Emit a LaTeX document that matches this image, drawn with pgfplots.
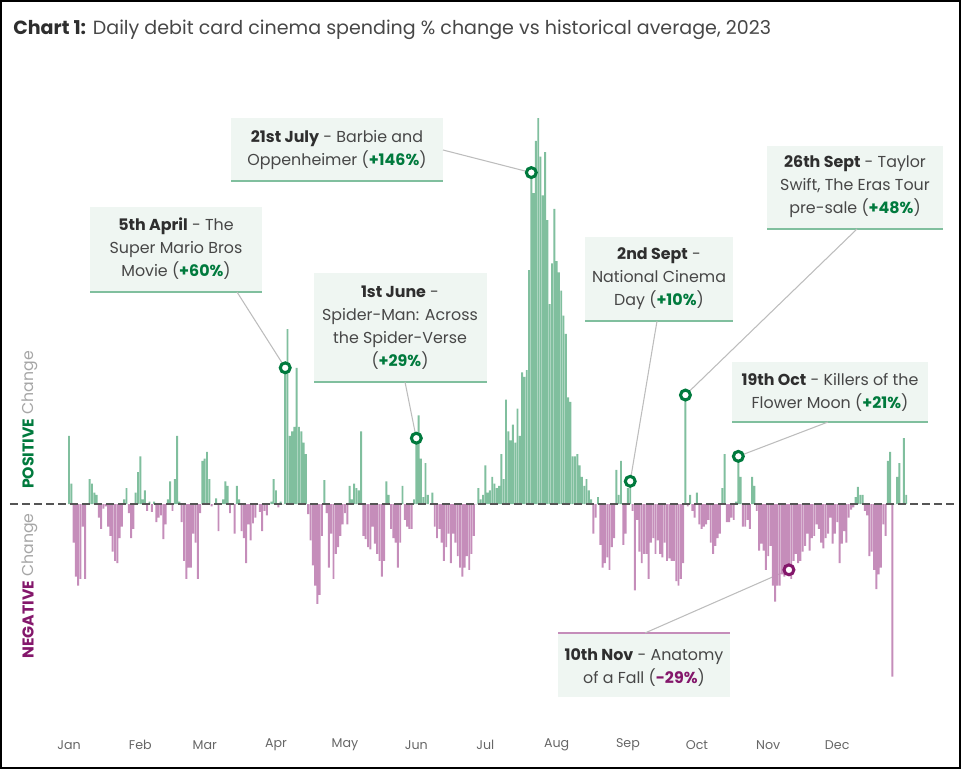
\documentclass[border=0pt]{standalone}
\usepackage{fontspec}
\setmainfont{Poppins}
\usepackage{pgfplots}
\pgfplotsset{compat=1.18}
\usepackage{pgfplotstable}
\definecolor{posbar}{HTML}{80BF9E}
\definecolor{negbar}{HTML}{C58DBA}
\definecolor{posdark}{HTML}{007A3D}
\definecolor{negdark}{HTML}{84176B}
\definecolor{boxfill}{HTML}{EFF6F2}
\definecolor{txtdark}{HTML}{2E2E2E}
\definecolor{txtreg}{HTML}{474747}
\definecolor{conn}{HTML}{BDBDBD}
\definecolor{zeroline}{HTML}{555555}
\definecolor{ylabgray}{HTML}{A6A6A6}
\definecolor{monthgray}{HTML}{666666}

\pgfplotstableread[row sep=\\]{
d v\\
0 30\\ 1 9\\ 2 -17\\ 3 -32\\ 4 -36\\ 5 -33\\ 6 -10\\ 7 -33\\ 8 0\\ 9 11\\
10 9\\ 11 5\\ 12 4\\ 13 -6\\ 14 -11\\ 15 -2\\ 16 -1\\ 17 -10\\ 18 -14\\ 19 -21\\
20 -25\\ 21 -26\\ 22 -15\\ 23 -10\\ 24 2\\ 25 7\\ 26 -4\\ 27 -15\\ 28 -11\\ 29 5\\
30 14\\ 31 21\\ 32 2\\ 33 6\\ 34 -3\\ 35 1\\ 36 -3.5\\ 37 1\\ 38 -8\\ 39 -6\\
40 -5\\ 41 -15.5\\ 42 -9\\ 43 2\\ 44 10\\ 45 -3\\ 46 11\\ 47 30\\ 48 1\\ 49 -8\\
50 -25\\ 51 -33\\ 52 -28\\ 53 -28\\ 54 -13\\ 55 -17\\ 56 -33\\ 57 -4\\ 58 19\\ 59 20\\
60 23\\ 61 11\\ 62 -1\\ 63 0\\ 64 2.5\\ 65 -12\\ 66 0\\ 67 2\\ 68 10\\ 69 8\\
70 -4\\ 71 0\\ 72 -13\\ 73 8\\ 74 2\\ 75 -12\\ 76 -15\\ 77 -26\\ 78 -9\\ 79 -16\\
80 -8.5\\ 81 -6\\ 82 0\\ 83 -3.5\\ 84 -12\\ 85 -3\\ 86 -5\\ 87 0\\ 88 1\\ 89 11\\
90 6\\ 91 -1.5\\ 92 1\\ 93 0\\ 94 61\\ 95 77\\ 96 30\\ 97 32\\ 98 34\\ 99 60\\
100 34\\ 101 32\\ 102 27\\ 103 22\\ 104 -4.5\\ 105 -16\\ 106 -27\\ 107 -36\\ 108 -44\\ 109 -40\\
110 -14\\ 111 10.5\\ 112 -4\\ 113 -28\\ 114 -13\\ 115 -33\\ 116 -22\\ 117 -19\\ 118 -14\\ 119 -9\\
120 -4\\ 121 -9\\ 122 8\\ 123 2\\ 124 9\\ 125 7\\ 126 6\\ 127 32\\ 128 -14\\ 129 -15.5\\
130 -19\\ 131 -20\\ 132 -10\\ 133 -17.5\\ 134 -22\\ 135 -25\\ 136 -32\\ 137 -25\\ 138 10\\ 139 4\\
140 -11\\ 141 -15\\ 142 -17\\ 143 -28\\ 144 -17\\ 145 8\\ 146 -7\\ 147 -10\\ 148 -11\\ 149 -11\\
150 2\\ 151 29\\ 152 39\\ 153 20\\ 154 3\\ 155 18\\ 156 4\\ 157 0\\ 158 5\\ 159 -10\\
160 -15\\ 161 -11\\ 162 -17\\ 163 -25\\ 164 -19\\ 165 -13\\ 166 -26\\ 167 -13\\ 168 -17\\ 169 -23\\
170 -28\\ 171 -32\\ 172 -28\\ 173 -23\\ 174 -29\\ 175 -22\\ 176 -14\\ 177 0\\ 178 7\\ 179 2\\
180 4\\ 181 17\\ 182 5\\ 183 6\\ 184 12\\ 185 9\\ 186 7\\ 187 8\\ 188 22\\ 189 11\\
190 46\\ 191 32\\ 192 28\\ 193 35\\ 194 27\\ 195 42\\ 196 30\\ 197 58\\ 198 56\\ 199 59\\
200 103\\ 201 146\\ 202 137\\ 203 160\\ 204 170\\ 205 153\\ 206 136\\ 207 155\\ 208 125\\ 209 88\\
210 106\\ 211 130\\ 212 107\\ 213 102\\ 214 94\\ 215 83\\ 216 75\\ 217 47\\ 218 45\\ 219 21\\
220 21\\ 221 22\\ 222 17\\ 223 12\\ 224 8\\ 225 11\\ 226 6\\ 227 2\\ 228 -13\\ 229 -6\\
230 3\\ 231 -18\\ 232 -28\\ 233 -26\\ 234 -23.5\\ 235 -29\\ 236 -19\\ 237 -15\\ 238 15\\ 239 4\\
240 19\\ 241 -18\\ 242 -13\\ 243 7\\ 244 10\\ 245 -3\\ 246 -38\\ 247 -7\\ 248 -21\\ 249 -26\\
250 -22\\ 251 -22\\ 252 -33\\ 253 -17\\ 254 -15\\ 255 -22\\ 256 -16\\ 257 -22\\ 258 -23.5\\ 259 -17\\
260 -25\\ 261 -24\\ 262 -25\\ 263 -25\\ 264 -34\\ 265 -36\\ 266 -33\\ 267 -26\\ 268 48\\ 269 -1\\
270 4\\ 271 -3\\ 272 -6\\ 273 5\\ 274 -9\\ 275 -11\\ 276 -10\\ 277 -9\\ 278 -7\\ 279 -17\\
280 -22\\ 281 -18.5\\ 282 -15\\ 283 -13\\ 284 7\\ 285 22\\ 286 -8\\ 287 -8\\ 288 -6\\ 289 -7\\
290 1\\ 291 21\\ 292 12\\ 293 -10\\ 294 -10\\ 295 -7\\ 296 -11\\ 297 12\\ 298 8\\ 299 -3\\
300 -20.5\\ 301 -17.5\\ 302 -20.5\\ 303 -29\\ 304 -23\\ 305 -18.5\\ 306 -36\\ 307 -43\\ 308 -36\\ 309 -36\\
310 -31\\ 311 -32\\ 312 -28\\ 313 -29\\ 314 -33\\ 315 -25\\ 316 -22\\ 317 -26\\ 318 -25\\ 319 -21\\
320 -18.5\\ 321 -13\\ 322 -20.5\\ 323 -15\\ 324 -14\\ 325 -9\\ 326 -11\\ 327 -17\\ 328 -19.5\\ 329 -15\\
330 -13\\ 331 -6\\ 332 -17.5\\ 333 -13\\ 334 -8\\ 335 -26\\ 336 -17.5\\ 337 -12\\ 338 -17\\ 339 -6\\
340 -2.5\\ 341 -1.5\\ 342 3\\ 343 7.5\\ 344 4\\ 345 4\\ 346 -3\\ 347 -5\\ 348 -23\\ 349 -21\\
350 -29\\ 351 -37.5\\ 352 -31\\ 353 -28\\ 354 -9\\ 355 -14\\ 356 19\\ 357 23\\ 358 -76\\ 359 0\\
360 12\\ 361 18\\ 362 0\\ 363 29\\ 364 4\\
}\daily

\begin{document}
\begin{tikzpicture}
\begin{scope}[x=0.75pt,y=0.75pt]
\useasboundingbox (0,0) rectangle (961,769);
\draw[black, line width=1.5pt] (1,1) rectangle (960,768);
% title
\node[anchor=west, inner sep=0, font=\fontsize{14.3}{16}\selectfont, text=txtreg] at (13,739)
  {{\bfseries\color{txtdark}Chart 1:} Daily debit card cinema spending \% change vs historical average, 2023};
% side labels
\node[rotate=90, inner sep=0, font=\fontsize{11.8}{13}\selectfont] at (30,349)
  {{\bfseries\color{posdark}POSITIVE} {\color{ylabgray}Change}};
\node[rotate=90, inner sep=0, font=\fontsize{11.8}{13}\selectfont] at (30,183)
  {{\bfseries\color{negdark}NEGATIVE} {\color{ylabgray}Change}};
% annotation boxes
\fill[boxfill] (231,588) rectangle (443,651);
\draw[posbar, line width=1.1pt] (231,588) -- (443,588);
\fill[boxfill] (90,477) rectangle (262,562);
\draw[posbar, line width=1.1pt] (90,477) -- (262,477);
\fill[boxfill] (314,387) rectangle (487,496);
\draw[posbar, line width=1.1pt] (314,387) -- (487,387);
\fill[boxfill] (585,448) rectangle (733,532);
\draw[posbar, line width=1.1pt] (585,448) -- (733,448);
\fill[boxfill] (767,540) rectangle (943,623);
\draw[posbar, line width=1.1pt] (767,540) -- (943,540);
\fill[boxfill] (732,347) rectangle (928,407);
\draw[posbar, line width=1.1pt] (732,347) -- (928,347);
\fill[boxfill] (558,72) rectangle (730,136);
\draw[negbar, line width=1.1pt] (558,136) -- (730,136);
% connectors
\draw[conn, line width=0.8pt] (443,619) -- (531.3,596.4);
\draw[conn, line width=0.8pt] (237,477) -- (285.2,401.2);
\draw[conn, line width=0.8pt] (405,387) -- (416.3,330.8);
\draw[conn, line width=0.8pt] (657,448) -- (630.2,287.7);
\draw[conn, line width=0.8pt] (857,540) -- (685.4,373.9);
\draw[conn, line width=0.8pt] (828,347) -- (738.3,312.7);
\draw[conn, line width=0.8pt] (645,136) -- (788.9,199.2);
% annotation texts
\begin{scope}[every node/.style={align=center, inner sep=0, text=txtreg, font=\fontsize{11.9}{17.25}\selectfont}]
\node at (337,618.5) {{\bfseries\color{txtdark}21st July} - Barbie and\\Oppenheimer ({\bfseries\color{posdark}+146\%})};
\node at (176,520) {{\bfseries\color{txtdark}5th April} - The\\Super Mario Bros\\Movie ({\bfseries\color{posdark}+60\%})};
\node at (400,441.5) {{\bfseries\color{txtdark}1st June} -\\Spider-Man: Across\\the Spider-Verse\\({\bfseries\color{posdark}+29\%})};
\node at (659,490) {{\bfseries\color{txtdark}2nd Sept} -\\National Cinema\\Day ({\bfseries\color{posdark}+10\%})};
\node at (855,582) {{\bfseries\color{txtdark}26th Sept} - Taylor\\Swift, The Eras Tour\\pre-sale ({\bfseries\color{posdark}+48\%})};
\node at (830,376.5) {{\bfseries\color{txtdark}19th Oct} - Killers of the\\Flower Moon ({\bfseries\color{posdark}+21\%})};
\node at (644,101.5) {{\bfseries\color{txtdark}10th Nov} - Anatomy\\of a Fall ({\bfseries\color{negdark}-29\%})};
\end{scope}
\end{scope}

\begin{axis}[
  at={(7.5pt,28.5pt)}, anchor=south west,
  scale only axis, width=708.75pt, height=476.7pt,
  xmin=-25.65, xmax=385.2, ymin=-100, ymax=180,
  axis line style={draw=none},
  tick style={draw=none},
  ytick=\empty,
  xtick={0,31,59,90,120,151,181,212,243,273,304,334},
  xticklabels={Jan,Feb,Mar,Apr,May,Jun,Jul,Aug,Sep,Oct,Nov,Dec},
  xticklabel style={anchor=center, yshift=-10.5pt, font=\fontsize{9.5}{11}\selectfont, text=monthgray},
  clip=false,
]
\addplot[ybar, bar width=1.45pt, bar shift=0pt, fill=posbar, draw=none,
  restrict y to domain=0:200] table[x=d, y=v] {\daily};
\addplot[ybar, bar width=1.45pt, bar shift=0pt, fill=negbar, draw=none,
  restrict y to domain=-200:0] table[x=d, y=v] {\daily};
\draw[zeroline, line width=1.2pt, dash pattern=on 6pt off 3pt]
  (axis cs:-25.65,0) -- (axis cs:385.2,0);
\addplot[only marks, mark=*, mark size=3.7pt,
  mark options={draw=posdark, fill=white, line width=2.3pt}]
  coordinates {(94,60) (151,29) (201,146) (244,10) (268,48) (291,21)};
\addplot[only marks, mark=*, mark size=3.7pt,
  mark options={draw=negdark, fill=white, line width=2.3pt}]
  coordinates {(313,-29)};
\end{axis}
\end{tikzpicture}
\end{document}
